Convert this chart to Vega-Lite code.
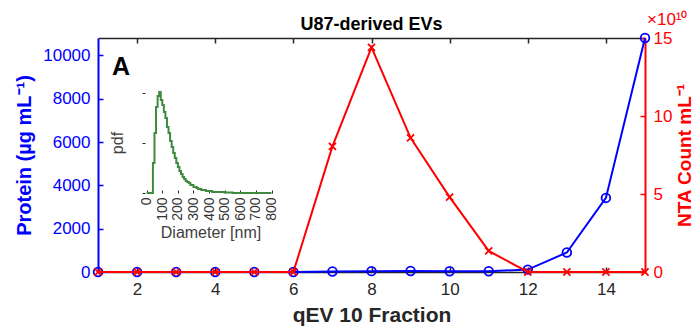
{
  "$schema": "https://vega.github.io/schema/vega-lite/v6.json",
  "width": 547,
  "height": 234,
  "autosize": {"type": "none"},
  "padding": {"left": 98, "top": 38, "right": 55, "bottom": 61},
  "background": "white",
  "title": {"text": "U87-derived EVs", "fontSize": 18, "fontWeight": "bold", "color": "#000000", "anchor": "middle", "frame": "group", "offset": 7, "baseline": "alphabetic", "dy": 44},
  "config": {"view": {"stroke": null}, "font": "Liberation Sans", "axis": {"grid": false, "labelFlush": false, "labelOverlap": false}},
  "datasets": {
    "fractions": [
      {"fraction": 1, "protein": 0, "nta": 0},
      {"fraction": 2, "protein": 0, "nta": 0},
      {"fraction": 3, "protein": 0, "nta": 0},
      {"fraction": 4, "protein": 0, "nta": 0},
      {"fraction": 5, "protein": 0, "nta": 0},
      {"fraction": 6, "protein": 0, "nta": 0},
      {"fraction": 7, "protein": 25, "nta": 8.05},
      {"fraction": 8, "protein": 40, "nta": 14.4},
      {"fraction": 9, "protein": 45, "nta": 8.6},
      {"fraction": 10, "protein": 35, "nta": 4.8},
      {"fraction": 11, "protein": 35, "nta": 1.35},
      {"fraction": 12, "protein": 110, "nta": 0},
      {"fraction": 13, "protein": 900, "nta": 0},
      {"fraction": 14, "protein": 3420, "nta": 0},
      {"fraction": 15, "protein": 10800, "nta": 0}
    ],
    "hist": [
      {"diameter": 0, "pdf": 0}, {"diameter": 10, "pdf": 0}, {"diameter": 20, "pdf": 0}, {"diameter": 30, "pdf": 0},
      {"diameter": 40, "pdf": 0.0030}, {"diameter": 50, "pdf": 0.0060}, {"diameter": 60, "pdf": 0.0086}, {"diameter": 70, "pdf": 0.0097},
      {"diameter": 80, "pdf": 0.0101}, {"diameter": 90, "pdf": 0.0093}, {"diameter": 100, "pdf": 0.0088}, {"diameter": 110, "pdf": 0.0081},
      {"diameter": 120, "pdf": 0.0075}, {"diameter": 130, "pdf": 0.0066}, {"diameter": 140, "pdf": 0.0060}, {"diameter": 150, "pdf": 0.0052},
      {"diameter": 160, "pdf": 0.0046}, {"diameter": 170, "pdf": 0.0040}, {"diameter": 180, "pdf": 0.0035}, {"diameter": 190, "pdf": 0.0030},
      {"diameter": 200, "pdf": 0.0026}, {"diameter": 210, "pdf": 0.0022}, {"diameter": 220, "pdf": 0.0019}, {"diameter": 230, "pdf": 0.0016},
      {"diameter": 240, "pdf": 0.0014}, {"diameter": 250, "pdf": 0.0012}, {"diameter": 260, "pdf": 0.0011}, {"diameter": 270, "pdf": 0.0010},
      {"diameter": 280, "pdf": 0.0008}, {"diameter": 290, "pdf": 0.0008}, {"diameter": 300, "pdf": 0.0006}, {"diameter": 310, "pdf": 0.0006},
      {"diameter": 320, "pdf": 0.0005}, {"diameter": 330, "pdf": 0.0004}, {"diameter": 340, "pdf": 0.0004}, {"diameter": 350, "pdf": 0.0003},
      {"diameter": 360, "pdf": 0.0003}, {"diameter": 380, "pdf": 0.0002}, {"diameter": 400, "pdf": 0.0002}, {"diameter": 420, "pdf": 0.0001},
      {"diameter": 450, "pdf": 0.0001}, {"diameter": 500, "pdf": 0.00005}, {"diameter": 550, "pdf": 0}, {"diameter": 800, "pdf": 0}
    ]
  },
  "layer": [
    {
      "layer": [
        {
          "data": {"name": "fractions"},
          "encoding": {
            "x": {"field": "fraction", "type": "quantitative", "scale": {"domain": [1, 15], "nice": false},
              "axis": {"orient": "bottom", "values": [2, 4, 6, 8, 10, 12, 14], "title": "qEV 10 Fraction", "titleFontSize": 21, "titleFontWeight": "bold", "titleColor": "#262626", "labelFontSize": 17, "labelColor": "#262626", "tickSize": -5, "tickColor": "#262626", "tickWidth": 1.5, "domainColor": "#262626", "domainWidth": 1.5, "labelPadding": 14, "titlePadding": 7}},
            "y": {"field": "protein", "type": "quantitative", "scale": {"domain": [0, 10800], "nice": false},
              "axis": {"orient": "left", "values": [0, 2000, 4000, 6000, 8000, 10000], "format": "d", "title": "Protein (µg mL⁻¹)", "titleFontSize": 20, "titleFontWeight": "bold", "titleColor": "#0000ff", "labelFontSize": 17, "labelColor": "#0000ff", "tickSize": -5, "tickColor": "#0000ff", "tickWidth": 1.5, "domainColor": "#0000ff", "domainWidth": 2, "labelPadding": 13, "titlePadding": 8}}
          },
          "layer": [
            {"mark": {"type": "line", "color": "#0000ff", "strokeWidth": 2}},
            {"mark": {"type": "point", "shape": "circle", "color": "#0000ff", "filled": false, "size": 75, "strokeWidth": 1.8, "opacity": 1}},
            {
              "transform": [{"filter": "datum.fraction == 1"}],
              "mark": {"type": "text", "text": "A", "align": "left", "baseline": "alphabetic", "fontSize": 25, "fontWeight": "bold", "fill": "#000000", "opacity": 1, "dx": 14},
              "encoding": {"y": {"datum": 9080}}
            }
          ]
        },
        {
          "data": {"name": "fractions"},
          "encoding": {
            "x": {"field": "fraction", "type": "quantitative", "scale": {"domain": [1, 15], "nice": false},
              "axis": {"orient": "top", "values": [2, 4, 6, 8, 10, 12, 14], "labels": false, "title": null, "tickSize": -5, "tickColor": "#262626", "tickWidth": 1.5, "domainColor": "#262626", "domainWidth": 1.5}},
            "y": {"field": "nta", "type": "quantitative", "scale": {"domain": [0, 15], "nice": false},
              "axis": {"orient": "right", "values": [0, 5, 10, 15], "title": "NTA Count mL⁻¹", "titleAngle": 270, "titleBaseline": "top", "titleFontSize": 19, "titleFontWeight": "bold", "titleColor": "#ff0000", "labelFontSize": 17, "labelColor": "#ff0000", "tickSize": -5, "tickColor": "#ff0000", "tickWidth": 1.5, "domainColor": "#ff0000", "domainWidth": 2, "labelPadding": 13, "titlePadding": 4}}
          },
          "layer": [
            {"mark": {"type": "line", "color": "#ff0000", "strokeWidth": 2}},
            {"mark": {"type": "point", "shape": "M-1,-1L1,1M-1,1L1,-1", "color": "#ff0000", "filled": false, "size": 50, "strokeWidth": 1.8, "opacity": 1}},
            {
              "transform": [{"filter": "datum.fraction == 15"}],
              "mark": {"type": "text", "text": "×10¹⁰", "align": "left", "baseline": "alphabetic", "fontSize": 17, "fill": "#ff0000", "opacity": 1, "dx": 2, "dy": -13},
              "encoding": {"y": {"datum": 15}}
            }
          ]
        }
      ],
      "resolve": {"scale": {"y": "independent"}, "axis": {"x": "independent", "y": "independent"}}
    },
    {
      "data": {"name": "hist"},
      "encoding": {
        "x": {"field": "diameter", "type": "quantitative", "scale": {"domain": [-30, 848], "range": [44, 181], "nice": false},
          "axis": {"orient": "bottom", "offset": -79, "values": [0, 100, 200, 300, 400, 500, 600, 700, 800], "labelAngle": 270, "labelFontSize": 14, "labelColor": "#333333", "tickSize": -3, "tickColor": "#262626", "domain": false, "labelPadding": 7, "title": "Diameter [nm]", "titleFontSize": 16, "titleFontWeight": "normal", "titleColor": "#404040", "titlePadding": 4}},
        "y": {"field": "pdf", "type": "quantitative", "scale": {"domain": [0, 0.0101], "range": [155, 54], "nice": false},
          "axis": {"orient": "left", "offset": -44, "values": [0, 0.005, 0.01], "labels": false, "tickSize": -3, "tickColor": "#262626", "domain": false, "title": "pdf", "titleFontSize": 16, "titleFontWeight": "normal", "titleColor": "#404040", "titlePadding": 16}}
      },
      "layer": [
        {
          "data": {"values": [{"box": "inset"}]},
          "mark": {"type": "rect", "fill": "white", "stroke": "#262626", "strokeWidth": 1.5},
          "encoding": {"x": {"datum": -30, "type": "quantitative"}, "x2": {"datum": 848}, "y": {"datum": 0, "type": "quantitative"}, "y2": {"datum": 0.0101}}
        },
        {"mark": {"type": "line", "color": "#3f8a3f", "strokeWidth": 2, "interpolate": "step-after"}}
      ]
    }
  ],
  "resolve": {"scale": {"x": "independent", "y": "independent"}, "axis": {"x": "independent", "y": "independent"}}
}
